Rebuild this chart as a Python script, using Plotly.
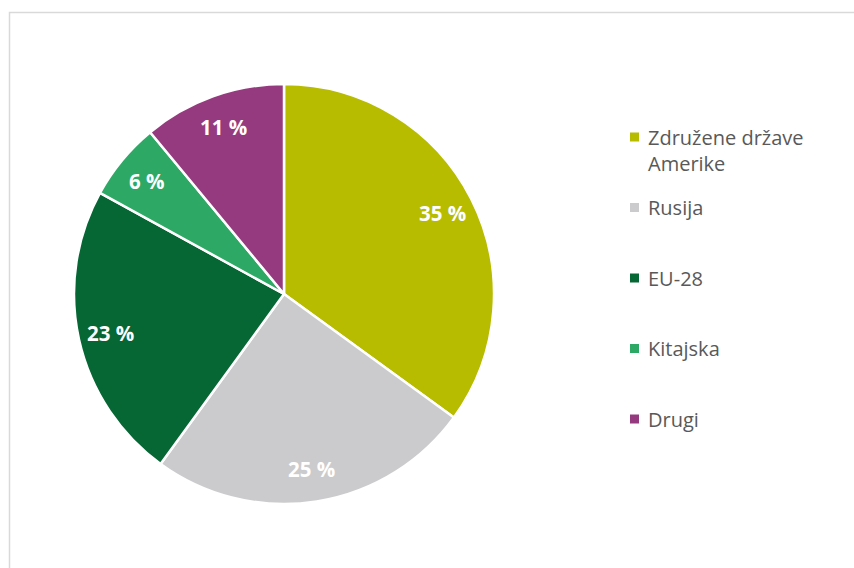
import math
import plotly.graph_objects as go

categories = ["Združene države<br>Amerike", "Rusija", "EU-28", "Kitajska", "Drugi"]
values = [35, 25, 23, 6, 11]
colors = ["#B7BC00", "#CBCBCD", "#066634", "#2EA965", "#953A7E"]

W, H = 854, 568
cx, cy, R = 284, 294, 210  # pie centre / radius in pixels


def px(x):
    return x / W


def py(y):
    return 1 - y / H


fig = go.Figure()
fig.add_trace(go.Pie(
    labels=categories, values=values, sort=False, direction="clockwise", rotation=0,
    marker=dict(colors=colors, line=dict(color="white", width=2.5)),
    textinfo="none", hoverinfo="label+percent", showlegend=False,
    domain=dict(x=[px(cx - R), px(cx + R)], y=[py(cy + R), py(cy - R)]),
))

# percentage labels placed along each slice's mid-angle
total = sum(values)
cum = 0
for v in values:
    mid = (cum + v / 2) / total * 2 * math.pi
    cum += v
    rr = 0.845 * R
    fig.add_annotation(x=px(cx + rr * math.sin(mid)), y=py(cy - rr * math.cos(mid)),
                       xref="paper", yref="paper", xanchor="center", yanchor="middle",
                       text=f"<b>{round(v / total * 100)} %</b>", showarrow=False,
                       font=dict(family="Open Sans, sans-serif", size=20.5, color="white"))

# legend (manual, to reproduce the spacing of the original)
shapes = [dict(type="rect", xref="paper", yref="paper",
               x0=px(9.5), x1=1.05, y0=-0.05, y1=py(12.5),
               line=dict(color="#D9D9D9", width=1.5))]
for i, (c, col) in enumerate(zip(categories, colors)):
    yc = 137 + 70.5 * i
    shapes.append(dict(type="rect", xref="paper", yref="paper",
                       x0=px(630), x1=px(639), y0=py(yc + 4.5), y1=py(yc - 4.5),
                       fillcolor=col, line=dict(width=0)))
    nlines = c.count("<br>") + 1
    fig.add_annotation(x=px(646), y=py(yc + 13 * (nlines - 1)), xref="paper", yref="paper",
                       xanchor="left", yanchor="middle", align="left", text=c,
                       showarrow=False,
                       font=dict(family="Open Sans, sans-serif", size=20, color="#595959"))

fig.update_layout(
    width=W, height=H, margin=dict(l=0, r=0, t=0, b=0),
    paper_bgcolor="white", plot_bgcolor="white",
    showlegend=False, shapes=shapes,
)

fig.write_html("out.html", config={"displayModeBar": False},
               post_script="document.body.style.margin='0';")
